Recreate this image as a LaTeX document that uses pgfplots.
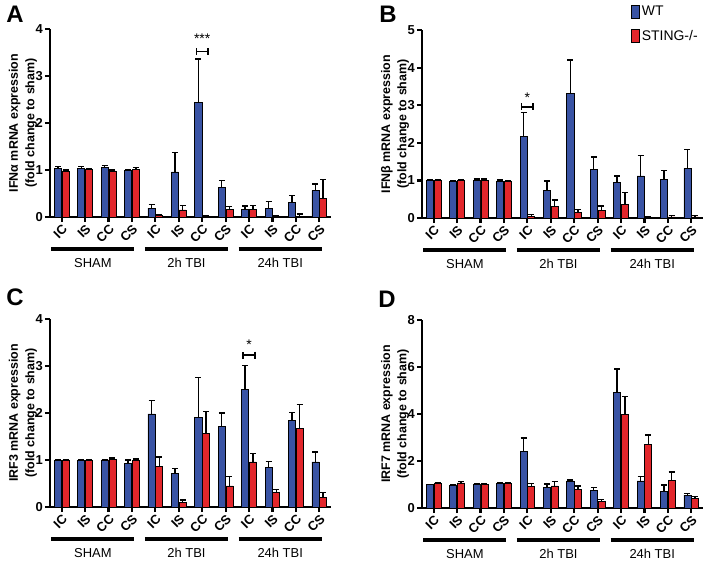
\documentclass[border=0pt]{standalone}
\usepackage{fontspec}
\setmainfont{Liberation Sans}
\usepackage{pgfplots}
\usepackage{pgfplotstable}
\pgfplotsset{compat=1.18}
\usetikzlibrary{arrows.meta}

\definecolor{wtblue}{HTML}{3953A4}
\definecolor{stred}{HTML}{E2262B}

% x: 0-3 SHAM, 4-7 2h TBI, 8-11 24h TBI (IC, IS, CC, CS)
\pgfplotstableread{
x  wt   wte   st   ste
0  1.03 0.04  0.98 0.02
1  1.04 0.03  1.01 0.02
2  1.05 0.04  0.98 0.02
3  0.99 0.02  1.02 0.03
4  0.19 0.07  0.03 0.02
5  0.96 0.41  0.15 0.09
6  2.43 0.93  0.02 0.01
7  0.63 0.15  0.17 0.05
8  0.17 0.06  0.16 0.08
9  0.19 0.14  0.01 0.01
10 0.31 0.15  0.02 0.04
11 0.56 0.14  0.39 0.41
}\dataA

\pgfplotstableread{
x  wt   wte   st   ste
0  1.00 0.02  1.00 0.02
1  0.98 0.02  1.00 0.03
2  1.01 0.03  1.01 0.03
3  0.97 0.04  0.98 0.02
4  2.17 0.63  0.05 0.05
5  0.73 0.25  0.31 0.17
6  3.32 0.88  0.15 0.08
7  1.30 0.32  0.21 0.11
8  0.95 0.17  0.35 0.33
9  1.12 0.54  0.02 0.02
10 1.03 0.23  0.03 0.04
11 1.32 0.50  0.03 0.03
}\dataB

\pgfplotstableread{
x  wt   wte   st   ste
0  0.99 0.01  0.99 0.01
1  0.99 0.01  0.99 0.01
2  0.99 0.01  1.02 0.02
3  0.92 0.08  1.00 0.02
4  1.98 0.28  0.87 0.19
5  0.71 0.11  0.09 0.06
6  1.91 0.85  1.57 0.46
7  1.71 0.29  0.45 0.20
8  2.50 0.51  0.96 0.18
9  0.85 0.12  0.31 0.06
10 1.85 0.16  1.67 0.51
11 0.96 0.21  0.21 0.10
}\dataC

\pgfplotstableread{
x  wt   wte   st   ste
0  0.99 0.02  1.04 0.04
1  0.98 0.03  1.07 0.06
2  1.00 0.03  1.01 0.03
3  1.04 0.04  1.05 0.03
4  2.40 0.58  0.93 0.12
5  0.88 0.14  0.94 0.18
6  1.15 0.05  0.78 0.16
7  0.75 0.11  0.27 0.10
8  4.93 0.99  4.00 0.75
9  1.15 0.18  2.70 0.40
10 0.70 0.28  1.17 0.36
11 0.55 0.08  0.42 0.08
}\dataD

\newcommand{\tickfont}{\bfseries\fontsize{13}{13}\selectfont}
\newcommand{\labfont}{\bfseries\fontsize{12.5}{16.5}\selectfont}
\newcommand{\grpfont}{\fontsize{13}{13}\selectfont}

\pgfplotsset{
  panel/.style={
    scale only axis, width=281bp, height=188bp,
    anchor=south west, clip=false,
    ybar, bar width=0.3,
    xmin=-0.5, xmax=11.5, ymin=0,
    axis x line*=bottom, axis y line*=left,
    axis line style={line width=2.6bp},
    every outer x axis line/.append style={line width=2.6bp},
    every outer y axis line/.append style={line width=2.6bp},
    xtick={0,...,11},
    xticklabels={IC,IS,CC,CS,IC,IS,CC,CS,IC,IS,CC,CS},
    xticklabel style={rotate=45, anchor=north east, font=\tickfont, inner sep=1bp},
    yticklabel style={font=\tickfont, inner sep=2bp},
    tick align=outside, major tick length=5bp,
    tick style={line width=2.2bp, black},
    ylabel style={at={(axis description cs:-0.096,0.5)}, anchor=center,
      align=center, font=\labfont},
    /pgf/number format/assume math mode=true,
  },
  errs/.style={
    error bars/y dir=plus, error bars/y explicit,
    error bars/error bar style={line width=1.4bp, black},
    error bars/error mark options={rotate=90, line width=1.4bp, mark size=3bp, black}},
  wtbar/.style={fill=wtblue, draw=black, line width=0.7bp, bar shift=-0.165, errs},
  stbar/.style={fill=stred, draw=black, line width=0.7bp, bar shift=0.165, errs},
}

\newcommand{\grouplines}{%
  \draw[line width=3.5bp] ([yshift=-32bp]axis cs:-0.45,0) -- ([yshift=-32bp]axis cs:3.1,0);
  \draw[line width=3.5bp] ([yshift=-32bp]axis cs:3.55,0) -- ([yshift=-32bp]axis cs:7.1,0);
  \draw[line width=3.5bp] ([yshift=-32bp]axis cs:7.55,0) -- ([yshift=-32bp]axis cs:11.1,0);
  \node[font=\grpfont] at ([yshift=-46bp]axis cs:1.33,0) {SHAM};
  \node[font=\grpfont] at ([yshift=-46bp]axis cs:5.33,0) {2h TBI};
  \node[font=\grpfont] at ([yshift=-46bp]axis cs:9.33,0) {24h TBI};
}

\begin{document}
\begin{tikzpicture}
\path[use as bounding box] (0bp,0bp) rectangle (709bp,-563bp);

\node[font=\bfseries\fontsize{24}{24}\selectfont] at (15bp,-14bp) {A};
\node[font=\bfseries\fontsize{24}{24}\selectfont] at (388bp,-14bp) {B};
\node[font=\bfseries\fontsize{24}{24}\selectfont] at (15bp,-297bp) {C};
\node[font=\bfseries\fontsize{24}{24}\selectfont] at (387bp,-299bp) {D};

% A
\begin{axis}[panel, at={(50bp,-217bp)}, ymax=4, ytick={0,...,4},
  ylabel={IFNα mRNA expression\\(fold change to sham)}]
\addplot[wtbar] table[x=x, y=wt, y error=wte] {\dataA};
\addplot[stbar] table[x=x, y=st, y error=ste] {\dataA};
\grouplines
\draw[line width=1.6bp, {Bar[width=7bp]}-{Bar[width=7bp]}] (axis cs:5.72,3.52) -- (axis cs:6.28,3.52);
\node[font=\fontsize{14}{14}\selectfont] at (axis cs:6,3.8) {***};
\end{axis}

% B
\begin{axis}[panel, at={(422bp,-218bp)}, ymax=5, ytick={0,...,5},
  ylabel={IFNβ mRNA expression\\(fold change to sham)},
  legend style={at={(0.733,1.15)}, anchor=north west, draw=none, fill=none,
    font=\fontsize{14}{14}\selectfont, row sep=9bp, cells={anchor=west}}]
\addplot[legend image code/.code={\draw[fill=wtblue, draw=black, line width=0.7bp] (0bp,-6.5bp) rectangle (8bp,6.5bp);}, wtbar]
  table[x=x, y=wt, y error=wte] {\dataB};
\addlegendentry{WT}
\addplot[legend image code/.code={\draw[fill=stred, draw=black, line width=0.7bp] (0bp,-6.5bp) rectangle (8bp,6.5bp);}, stbar]
  table[x=x, y=st, y error=ste] {\dataB};
\addlegendentry{STING-/-}
\grouplines
\draw[line width=1.6bp, {Bar[width=7bp]}-{Bar[width=7bp]}] (axis cs:3.72,2.96) -- (axis cs:4.28,2.96);
\node[font=\fontsize{14}{14}\selectfont] at (axis cs:4,3.2) {*};
\end{axis}

% C
\begin{axis}[panel, at={(50bp,-507bp)}, ymax=4, ytick={0,...,4},
  ylabel={IRF3 mRNA expression\\(fold change to sham)}]
\addplot[wtbar] table[x=x, y=wt, y error=wte] {\dataC};
\addplot[stbar] table[x=x, y=st, y error=ste] {\dataC};
\grouplines
\draw[line width=1.6bp, {Bar[width=7bp]}-{Bar[width=7bp]}] (axis cs:7.72,3.23) -- (axis cs:8.28,3.23);
\node[font=\fontsize{14}{14}\selectfont] at (axis cs:8,3.45) {*};
\end{axis}

% D
\begin{axis}[panel, at={(422bp,-508bp)}, ymax=8, ytick={0,2,...,8},
  ylabel={IRF7 mRNA expression\\(fold change to sham)}]
\addplot[wtbar] table[x=x, y=wt, y error=wte] {\dataD};
\addplot[stbar] table[x=x, y=st, y error=ste] {\dataD};
\grouplines
\end{axis}
\end{tikzpicture}
\end{document}
